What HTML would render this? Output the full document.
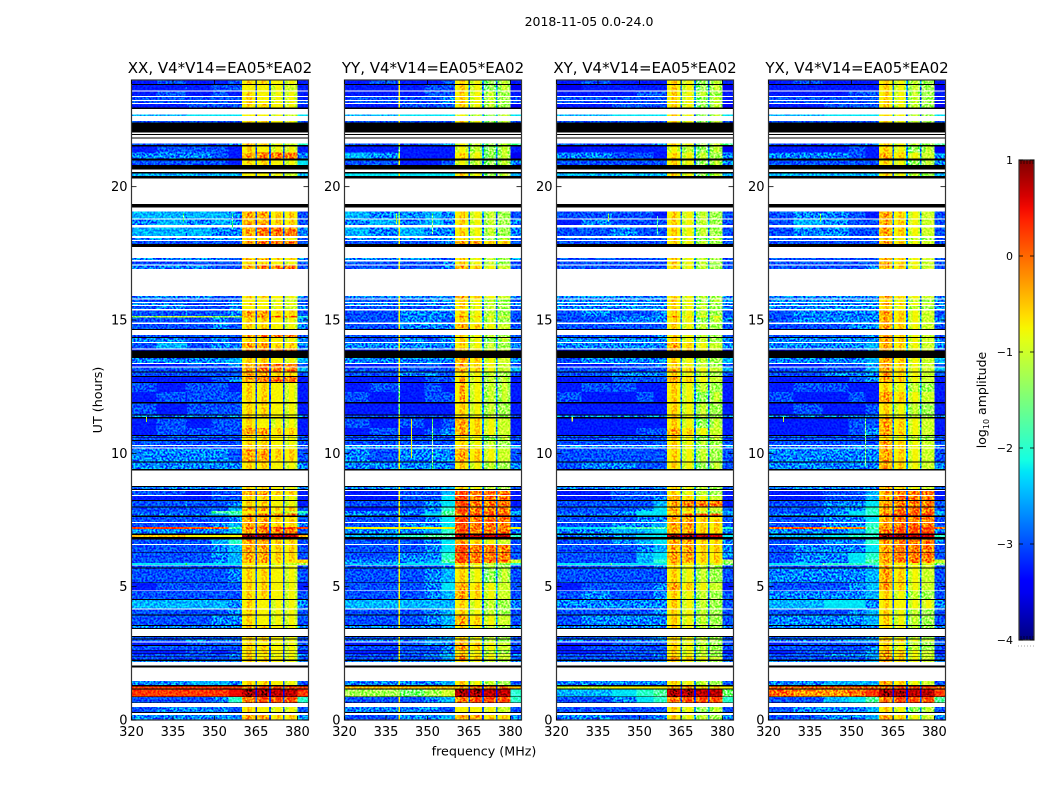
<!DOCTYPE html>
<html lang="en">
<head>
<meta charset="utf-8">
<title>2018-11-05 0.0-24.0</title>
<style>
html,body{margin:0;padding:0;background:#fff;}
svg{display:block;font-family:"DejaVu Sans","Liberation Sans",sans-serif;fill:#000;}
</style>
</head>
<body>
<svg id="chart" xmlns="http://www.w3.org/2000/svg" width="1050" height="800" viewBox="0 0 1050 800">
  <defs>
    <filter id="speckle" x="0" y="0" width="100%" height="100%" color-interpolation-filters="sRGB">
      <feTurbulence type="fractalNoise" baseFrequency="0.5" numOctaves="1" seed="7"/>
      <feColorMatrix type="matrix" values="4 0 0 0 -1.5  4 0 0 0 -1.5  4 0 0 0 -1.5  0 0 0 0 1"/>
    </filter>
    <filter id="soften" x="-2%" y="-2%" width="104%" height="104%" color-interpolation-filters="sRGB">
      <feGaussianBlur stdDeviation="0.35"/>
    </filter>
    <linearGradient id="jet-gradient" x1="0" y1="1" x2="0" y2="0"></linearGradient>
  </defs>
  <text x="589" y="26" font-size="12.5" text-anchor="middle">2018-11-05 0.0-24.0</text>
  <text x="484" y="755.5" font-size="12.7" text-anchor="middle">frequency (MHz)</text>
  <text transform="translate(102,400) rotate(-90)" font-size="12.7" text-anchor="middle">UT (hours)</text>
  <g id="panels"></g>
  <g id="colorbar"></g>
</svg>
<script>
// Axis ticks
const freqTicks = [320, 335, 350, 365, 380];
const hourTicks = [0, 5, 10, 15, 20];
const colorTicks = [1, 0, -1, -2, -3, -4];

// Frequency channel edges (MHz); 22 columns
const freqEdges = [320,329,339.6,340,349,355,360,361.5,363.5,364.8,365.4,367,369,369.8,370.4,372,374,374.8,375.4,377,379,380,384];

// Time rows: top edge (hours) with kind d=data, w=flagged (white), k=black
const rowTops = [
24,23.85,23.81,23.61,23.57,23.40,23.36,23.25,23.21,23.14,
23.10,22.97,22.91,22.71,22.65,22.46,22.41,22.03,21.98,21.94,
21.84,21.81,21.62,21.56,21.51,21.28,21.06,20.98,20.81,20.64,
20.55,20.49,20.40,20.31,19.35,19.22,19.07,18.81,18.77,18.56,
18.47,18.15,18.08,18.00,17.96,17.85,17.74,17.33,17.25,17.19,
17.08,17.04,16.91,15.90,15.81,15.77,15.68,15.64,15.56,15.53,
15.41,15.35,15.15,15.09,14.90,14.85,14.67,14.63,14.44,14.36,
14.33,14.18,14.14,13.93,13.89,13.85,13.58,13.38,13.35,13.26,
13.21,13.06,13.04,12.90,12.87,12.68,12.64,12.30,11.93,11.86,
11.46,11.42,11.36,11.31,10.95,10.69,10.65,10.60,10.58,10.50,
10.46,10.31,10.28,10.22,10.19,9.70,9.66,9.42,9.36,8.78,
8.73,8.66,8.63,8.59,8.44,8.40,8.25,8.21,8.00,7.96,
7.84,7.75,7.67,7.62,7.43,7.39,7.24,7.16,6.99,6.94,
6.86,6.77,6.60,6.56,6.29,6.26,6.02,5.88,5.82,5.79,
5.72,5.68,5.16,5.13,4.86,4.84,4.54,4.50,4.19,4.15,
3.96,3.92,3.56,3.53,3.45,3.41,3.15,3.11,3.06,3.01,
2.94,2.91,2.81,2.78,2.63,2.60,2.50,2.48,2.38,2.36,
2.27,2.22,2.18,2.04,1.97,1.46,1.31,1.26,1.18,1.14,
0.88,0.86,0.66,0.64,0.48,0.30,0.26,0.19];
const rowKinds = ["dkdwdwdwdw","dkwdwdkwkw","kwdkddkdkw","kdkwkwdwdw","dwdwdkwdwd","wdwdwdwdwd","wdddwdkwdk","dwdwdkdwdw","dkdkdkddkd","kdkddkdkdk","dwdwdkdkwk","dkwdwdkdkd","ddkdwdddkd","kdwdkdddwd","kdkdwdkdwd","kdkdkwkdkd","wdkdkdkdkd","kdwkwdkdkd","kdkwdkwd"];

// Level codes: index in this string * 0.25 - 4 = log10 amplitude
const levelCodes = "0123456789ABCDEFGHIJK";

// 360-380 MHz window profiles, per 15 channels, as level codes
const windowProfiles = {
a:"DDD4DDD4CDC4CCC", b:"DED4DDD4CDC4CDC", c:"DED4DED4DDD4CDC", d:"EFE4EFE4DED4DED",
e:"EFE4FGF4FGF4FGF", f:"FGF4GHG4GHG4GHG", g:"JKJ2JKJ2JJJ2JJJ", h:"CDC5BCB5ABA5BCB",
i:"DED5CDC5ABA5BCB", j:"DED5CDC5BCB5BBB", k:"EFE5DED5CDC5CCC", m:"GHG4FGF4FGF4FGF",
p:"DFD5CDC5BCB5BCB", q:"EGE4DED5CDC5CDC"
};

// Per row: six low-band levels, window profile letter, one high-band level
const levelsXX = [
"343334c3","334344a3","343343b3","444444b3","444444b4",
"333444c3","666777a7","444444c4",
"443445k8","344443b3","555543e5","444443c7",
"666666a6","665665d4","566565d4",
"665655e5","555555b4","444444e4","555554d5","444444c4",
"555544e4","555544c5","444445a4","555445b4","454445a5",
"445445d4","BCCCBBe8","445454c5","444454c5","444444e4",
"554454c5","465455d5","333444e4","556556c6","333445e4",
"444444e6","444444d4","333345e3","434443c3","343444c3","433444c3",
"555555c5","344344b3","343444d3","444444c4","445444c4",
"444444c4","445444c4","555554d4","555555c5",
"555555c5","443344d3","333344c3","445445c3","444446d4",
"444499a8","555568e5","445445d4","444456d5","HHHGG9fH","555556e4","EEDDDDgF",
"444468d4","444456d4","444456d4","444456dE","77A777aB","444444b4",
"444445c4","344444c3","444444c4","666665b5","444445b4",
"444455b4","555555c5","444444c4","445555c4",
"333444b4","444444c4","334434c3","445445b5","444444c4",
"555555c5","555665c4","HHHHHHfH","HHHHHIgH",
"444458f8","455554b4","555555d5"];

const levelsYY = [
"34D334i3","33D344i2","33D344j3","44D445j4","44D445j4",
"33D444j2","66D777h7","44D444i4",
"44D445h9","33A333h3","65D333i2","44D334h5",
"77D777i6","65A565j4","56D565j5",
"65D655j5","55D555i4","44D445d4","55D554j5","44D445j4",
"44D445k4","55D555k5","44D455j4","55D555j5","44D445j4",
"44D555j4","44D555k4","44D554j4","44D555k4","44D445j4",
"44D545i4","55D555j5","33D443k3","55D555k5","33D443k4",
"44D444k6","44D554j4","33D344p3","34A343p3","43A344p3","33A333j3",
"44D444j4","43D434k3","34D345k3","44D444i4","44D444i4",
"44D444j4","55D555j5","54D555k4","55D555j5",
"55D556j4","33D446m3","33D447m3","44D457m3","33D458m4",
"55D569m6","55D579f5","44D457m4","44D557m4","DDDDDDmD","55D568m5","667899g8",
"44D457k4","44D457m4","44D558m4","55D569mC","66A777j8","44D445j4",
"44D456i4","44D457k4","44D456k4","66D666j5","44D456j4",
"44D456k4","55D556j5","44D455j4","55D566j4",
"33D455k4","44D445k4","33D445j3","44D456k5","44D446k4",
"55D556j5","55D556j4","EEEEEEeE","BBBABCg8",
"44D456f8","55D554a4","44D556d5"];

const levelsXY = [
"343333i3","233333i2","333344j3","444444i3","444444i3",
"333444i2","666777i7","444444i4",
"443445i9","233333h2","555443j5","444444i5",
"666666i6","445443j4","354444j4",
"445544j4","444444i4","444444j4","444444j4","444444j4",
"444444j4","555555j5","555555i5","555555j5","555555j5",
"454445j4","444555q4","444555i5","444444j4","444445j4",
"555555j5","555555k5","333443k3","456555j6","333445j4",
"443444k6","444555j4","333444k3","343433j3","433343i3","333333j3",
"555555j5","333333i3","333344k3","444444i4","444444i4",
"444444j4","555555i5","444444j4","454544i4",
"555555j4","334444j3","334445k3","444446e3","444457k4",
"444577j6","555577e5","444455d4","444556d4","778899d8","555667d5","555577g7",
"444567d5","444456d5","444467d5","444468dB","77A777bA","444445j4",
"444444j4","344445k3","454445j4","555555j4","444445j4",
"455555j4","555555j5","444445j4","555555j4",
"333444j4","344444j4","333444j3","444445j4","444444k4",
"555555j5","555555j4","CCDDDDdD","666789gA",
"444578f8","444444i4","555445j5"];

const levelsYX = [
"343333j3","333333j2","333344j3","444444j3","444444j3",
"333444j2","666777j7","444444j4",
"443445j9","333343i2","555543k5","444444i5",
"666666j6","456543k4","465544k4",
"455544k4","444444j4","444444k4","444444k4","444444k4",
"444445k4","555555k5","555555j5","555555k5","555555j5",
"455555k4","445555k4","455555k5","444455k4","444445k4",
"555555k5","555556k5","333445k3","556556k6","333445k4",
"444446k6","444555k4","333345k3","343433j3","433343k3","343334j3",
"555555j5","333344k3","333345k3","444445j4","444444j4",
"444444k4","555555k5","555555k4","555555k5",
"555555k4","334446e3","334446e3","444557e4","444558e4",
"445578e6","555578f5","444557e4","445558e4","GGGFF9fG","555568f5","666788g8",
"444558e5","455557e4","455578e4","455579eC","77A888bA","444445k4",
"555556k4","444456k4","555556j4","666775b5","444456j4",
"555556j4","555555j5","444445j4","555566k4",
"344444j4","444445j4","344445k3","444556k4","444445k4",
"555556k5","555666k4","GGGGGGfG","GFFFGHgH",
"445679f9","455556i4","445556k5"];

// Narrow RFI features: panel index, frequency (MHz), start and end hour, level code
const spikePanels = [0,0,0,1,1,1,1,2,2,2,3,3,3];
const spikeFreqs  = [325.2,338.6,356.3,344,351.6,351.6,338.6,325.5,338.6,356.3,325.2,338.6,354.9];
const spikeTops   = [11.36,19.0,19.0,11.29,11.3,19.0,19.0,11.36,19.0,18.9,11.36,19.0,11.3];
const spikeEnds   = [11.17,18.7,18.4,9.83,9.42,18.2,18.6,11.2,18.7,18.2,11.17,18.7,9.5];
const spikeLevels = "CA9DAACCB9CBA";

const panelTitles = ["XX, V4*V14=EA05*EA02","YY, V4*V14=EA05*EA02","XY, V4*V14=EA05*EA02","YX, V4*V14=EA05*EA02"];
const panelKeys = ["xx","yy","xy","yx"];
const panelLevels = [levelsXX, levelsYY, levelsXY, levelsYX];

/* ---------- layout and scales ---------- */
const SVGNS = "http://www.w3.org/2000/svg";
const panelLefts = [131.5, 344.5, 556.5, 768.5];
const panelWidth = 177, plotTop = 80, plotBottom = 720;
const freqMin = 320, freqMax = 384, hourMin = 0, hourMax = 24;
const logMin = -4, logMax = 1;
const xScale = (f, left) => left + (f - freqMin) / (freqMax - freqMin) * panelWidth;
const yScale = h => plotBottom - (h - hourMin) / (hourMax - hourMin) * (plotBottom - plotTop);
const cbTop = 160, cbBottom = 640, cbLeft = 1019, cbRight = 1034;
const cbScale = v => cbBottom - (v - logMin) / (logMax - logMin) * (cbBottom - cbTop);

function jet(t){
  t = Math.max(0, Math.min(1, t));
  const seg = (pts) => {
    for (let i = 1; i < pts.length; i++) {
      if (t <= pts[i][0]) {
        const a = pts[i-1], b = pts[i];
        return a[1] + (b[1]-a[1]) * (t-a[0]) / (b[0]-a[0]);
      }
    }
    return pts[pts.length-1][1];
  };
  const r = seg([[0,0],[0.35,0],[0.66,1],[0.89,1],[1,0.5]]);
  const g = seg([[0,0],[0.125,0],[0.375,1],[0.64,1],[0.91,0],[1,0]]);
  const b = seg([[0,0.5],[0.11,1],[0.34,1],[0.65,0],[1,0]]);
  return "rgb(" + Math.round(r*255) + "," + Math.round(g*255) + "," + Math.round(b*255) + ")";
}
const levelValue = c => levelCodes.indexOf(c) * 0.25 + logMin;
const levelColor = c => jet((levelValue(c) - logMin) / (logMax - logMin));

function mk(tag, attrs, parent){
  const el = document.createElementNS(SVGNS, tag);
  for (const k in attrs) el.setAttribute(k, attrs[k]);
  parent.appendChild(el);
  return el;
}

function expandRow(s){
  return s.slice(0,6) + windowProfiles[s[6]] + s[7];
}

const kinds = rowKinds.join("");
const panelsRoot = document.getElementById("panels");

panelTitles.forEach((title, p) => {
  const left = panelLefts[p];
  const g = mk("g", {}, panelsRoot);
  
  

  const field = mk("g", {filter:"url(#soften)"}, g);
  
  
  field.style.isolation = "isolate";

  const heat = mk("g", {"shape-rendering":"crispEdges"}, field);
  
  

  let dataIndex = 0;
  rowTops.forEach((top, r) => {
    const bottom = r + 1 < rowTops.length ? rowTops[r+1] : hourMin;
    const y0 = yScale(top), y1 = yScale(bottom);
    const kind = kinds[r];
    if (kind === "d") {
      const levels = expandRow(panelLevels[p][dataIndex++]);
      for (let c = 0; c < levels.length; c++) {
        const x0 = xScale(freqEdges[c], left), x1 = xScale(freqEdges[c+1], left);
        const cell = mk("rect", {x:x0.toFixed(2), y:y0.toFixed(2), width:(x1-x0).toFixed(2), height:(y1-y0).toFixed(2), fill:levelColor(levels[c])}, heat);
        
        
      }
    } else {
      const band = mk("rect", {x:left, y:y0.toFixed(2), width:panelWidth, height:(y1-y0).toFixed(2), fill: kind === "k" ? "#000" : "#fff"}, heat);
      
      
    }
  });

  spikeFreqs.forEach((f, i) => {
    if (spikePanels[i] !== p) return;
    const spike = mk("rect", {x:xScale(f,left).toFixed(2), y:yScale(spikeTops[i]).toFixed(2), width:1.2, height:(yScale(spikeEnds[i])-yScale(spikeTops[i])).toFixed(2), fill:levelColor(spikeLevels[i])}, heat);
    
    
  });

  const noise = mk("rect", {x:left, y:plotTop, width:panelWidth, height:plotBottom-plotTop, filter:"url(#speckle)", opacity:"0.85"}, field);
  noise.style.mixBlendMode = "overlay";
  
  

  const frame = mk("rect", {x:left, y:plotTop, width:panelWidth, height:plotBottom-plotTop, fill:"none", stroke:"#333", "stroke-width":"1.2"}, g);
  
  

  const t = mk("text", {x:left+panelWidth/2, y:73, "font-size":"15", "text-anchor":"middle"}, g);
  t.textContent = title;
  
  

  freqTicks.forEach(f => {
    const x = xScale(f, left);
    const tb = mk("line", {x1:x, x2:x, y1:plotBottom, y2:plotBottom-4, stroke:"#000", "stroke-width":"0.8"}, g);
    
    
    const tt = mk("line", {x1:x, x2:x, y1:plotTop, y2:plotTop+4, stroke:"#000", "stroke-width":"0.8"}, g);
    
    
    const lab = mk("text", {x:x, y:736, "font-size":"13", "text-anchor":"middle"}, g);
    lab.textContent = f;
    
    
  });
  hourTicks.forEach(h => {
    const y = yScale(h);
    const tl = mk("line", {x1:left, x2:left+5, y1:y, y2:y, stroke:"#000", "stroke-width":"0.8"}, g);
    
    
    const tr = mk("line", {x1:left+panelWidth, x2:left+panelWidth-5, y1:y, y2:y, stroke:"#000", "stroke-width":"0.8"}, g);
    
    
    const lab = mk("text", {x:left-4, y:y+4.5, "font-size":"13", "text-anchor":"end"}, g);
    lab.textContent = h;
    
    
  });
});

/* ---------- colorbar ---------- */
const grad = document.getElementById("jet-gradient");
for (let i = 0; i <= 40; i++) {
  mk("stop", {offset:(i/40), "stop-color":jet(i/40)}, grad);
}
const cb = document.getElementById("colorbar");
const cbBar = mk("rect", {x:cbLeft, y:cbTop, width:cbRight-cbLeft, height:cbBottom-cbTop, fill:"url(#jet-gradient)", stroke:"#333", "stroke-width":"1.2"}, cb);


colorTicks.forEach(v => {
  const y = cbScale(v);
  const tl = mk("line", {x1:cbLeft, x2:cbLeft+4, y1:y, y2:y, stroke:"#000", "stroke-width":"0.8"}, cb);
  
  
  const tr = mk("line", {x1:cbRight, x2:cbRight-4, y1:y, y2:y, stroke:"#000", "stroke-width":"0.8"}, cb);
  
  
  const lab = mk("text", {x:1013, y:y+4, "font-size":"11", "text-anchor":"end"}, cb);
  lab.textContent = String(v).replace("-", "\u2212");
  
  
});
[1021,1024,1027,1030,1033].forEach(x => {
  [[cbTop, cbTop+4],[cbBottom, cbBottom-4]].forEach(pair => {
    const m = mk("line", {x1:x, x2:x, y1:pair[0], y2:pair[1], stroke:"#000", "stroke-width":"0.6"}, cb);
    
    
  });
});
const dots = mk("line", {x1:1018, x2:1035, y1:646, y2:646, stroke:"#888", "stroke-width":"0.8", "stroke-dasharray":"1 2"}, cb);


const cbLabel = mk("text", {transform:"translate(986,400) rotate(-90)", "font-size":"12.5", "text-anchor":"middle"}, cb);


cbLabel.innerHTML = 'log<tspan font-size="8" dy="3">10</tspan><tspan dy="-3"> amplitude</tspan>';
</script>
</body>
</html>
